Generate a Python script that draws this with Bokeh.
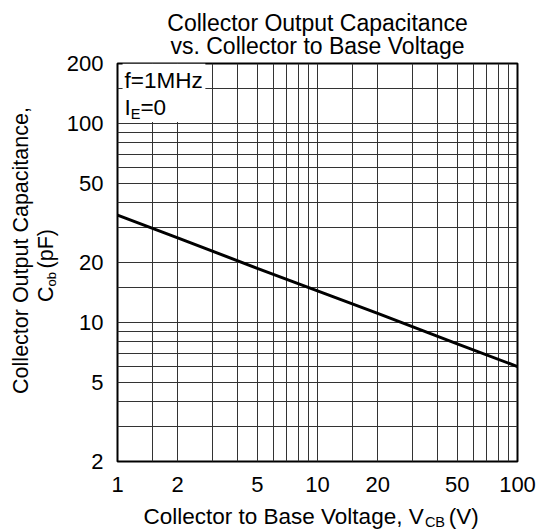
import numpy as np
from bokeh.plotting import figure
from bokeh.models import FixedTicker, Label, BoxAnnotation
from bokeh.embed import file_html
from bokeh.resources import INLINE

# ---- data ----
vcb = [1, 2, 5, 10, 20, 50, 100]                 # V_CB (V)
cob = [34.6, 26.6, 18.7, 14.4, 11.1, 7.8, 6.0]   # C_ob (pF)

x_ticks = [1, 2, 5, 10, 20, 50, 100]
x_tick_labels = ["1", "2", "5", "10", "20", "50", "100"]
y_ticks = [2, 5, 10, 20, 50, 100, 200]
y_tick_labels = ["2", "5", "10", "20", "50", "100", "200"]
x_grid = [1, 1.5, 2, 3, 4, 5, 6, 7, 8, 9, 10, 15, 20, 30, 40, 50, 60, 70, 80, 90, 100]
y_grid = [2, 3, 4, 5, 6, 7, 8, 9, 10, 15, 20, 30, 40, 50, 60, 70, 80, 90, 100, 150, 200]

title_lines = ["Collector Output Capacitance", "vs. Collector to Base Voltage"]
y_label_line1 = "Collector Output Capacitance,"
y_label_parts = ["C", "ob", "(pF)"]
x_label_parts = ["Collector to Base Voltage, V", "CB", "(V)"]
cond_f = "f=1MHz"
cond_i = ["I", "E", "=0"]

FONT = "Liberation Sans"
NBSP = "\u00a0"

# Arial / Liberation Sans advance widths (per em), used to place sub-scripts
W = {' ': .278, NBSP: .278, '(': .333, ')': .333, ',': .278, '.': .278, '=': .584,
     'B': .667, 'C': .722, 'E': .667, 'F': .611, 'I': .278, 'V': .667,
     'a': .556, 'b': .556, 'c': .5, 'e': .556, 'g': .556, 'l': .222,
     'o': .556, 'p': .556, 'r': .333, 's': .5, 't': .278, 'u': .556,
     'O': .778, 'i': .222, 'n': .556}
for d in "0123456789":
    W[d] = .556


def tw(s, size):
    return sum(W.get(ch, .556) for ch in s) * size


p = figure(width=538, height=532, x_axis_type="log", y_axis_type="log",
           x_range=(1, 100), y_range=(2, 200), output_backend="svg",
           toolbar_location=None, title=None,
           min_border_left=117, min_border_right=21,
           min_border_top=63, min_border_bottom=71)
p.background_fill_color = "white"
p.border_fill_color = "white"
p.outline_line_color = "black"
p.outline_line_width = 2

TICK_FS = 22
p.xaxis.ticker = FixedTicker(ticks=x_ticks)
p.yaxis.ticker = FixedTicker(ticks=y_ticks)
p.xaxis.major_label_overrides = dict(zip(x_ticks, x_tick_labels))
p.yaxis.major_label_overrides = dict(zip(y_ticks, y_tick_labels))
for ax in (p.xaxis, p.yaxis):
    ax.axis_line_color = None
    ax.major_tick_line_color = None
    ax.minor_tick_line_color = None
    ax.major_tick_out = 0
    ax.major_tick_in = 0
    ax.minor_tick_out = 0
    ax.minor_tick_in = 0
    ax.major_label_text_font = FONT
    ax.major_label_text_font_size = f"{TICK_FS}px"
    ax.major_label_text_color = "black"
p.xaxis.major_label_standoff = 15
p.yaxis.major_label_standoff = 14

p.xgrid.ticker = FixedTicker(ticks=x_grid)
p.ygrid.ticker = FixedTicker(ticks=y_grid)
for g in (p.xgrid, p.ygrid):
    g.grid_line_color = "#333333"
    g.grid_line_width = 1
    g.grid_line_alpha = 1.0

p.line(vcb, cob, line_color="black", line_width=3)

# white box behind the test conditions
p.add_layout(BoxAnnotation(left=1.06, right=2.75, bottom=101.5, top=200,
                           fill_color="white", fill_alpha=1.0, line_color=None))


def lab(text, x, y, xo, yo, size, align="left", angle=0.0, place="center"):
    l = Label(x=x, y=y, x_offset=xo, y_offset=yo, text=text,
              text_font=FONT, text_font_size=f"{size}px",
              text_color="black", text_align=align,
              text_baseline="middle", angle=angle)
    if place == "center":
        p.add_layout(l)
    else:
        p.add_layout(l, place)


# test conditions (inside the frame)
CF, CS = 22.5, 14.5
lab(cond_f, 1, 200, 7, -17, CF)
lab(cond_i[0], 1, 200, 7, -44, CF)
lab(cond_i[1], 1, 200, 7 + tw(cond_i[0], CF), -50, CS)
lab(cond_i[2], 1, 200, 7 + tw(cond_i[0], CF) + tw(cond_i[1], CS), -44, CF)

# title, anchored at the top centre of the frame (side panel => not clipped)
TF = 23
lab(title_lines[0], 10, 200, 0, 41, TF, align="center", place="above")
lab(title_lines[1], 10, 200, 0, 18, TF, align="center", place="above")

# x axis label: main text with a gap, subscript placed into the gap
XF, XS = 22.5, 14.5
gap_x = NBSP * 4
x_main = x_label_parts[0] + gap_x + x_label_parts[2]
xs = 26
lab(x_main, 1, 2, xs, -55, XF, place="below")
lab(x_label_parts[1], 1, 2, xs + tw(x_label_parts[0], XF), -60.5, XS, place="right")

# y axis label, rotated
YF, YS = 21.5, 13
lab(y_label_line1, 1, 20, -97, 12, YF, align="center", angle=np.pi / 2, place="left")
gap_y = NBSP * 3
y_main = y_label_parts[0] + gap_y + y_label_parts[2]
y0 = -3 - tw(y_main, YF) / 2
lab(y_main, 1, 20, -72, y0, YF, angle=np.pi / 2, place="left")
lab(y_label_parts[1], 1, 20, -66, y0 + tw(y_label_parts[0], YF), YS,
    angle=np.pi / 2, place="left")

open("out.html", "w").write(file_html(p, INLINE))
